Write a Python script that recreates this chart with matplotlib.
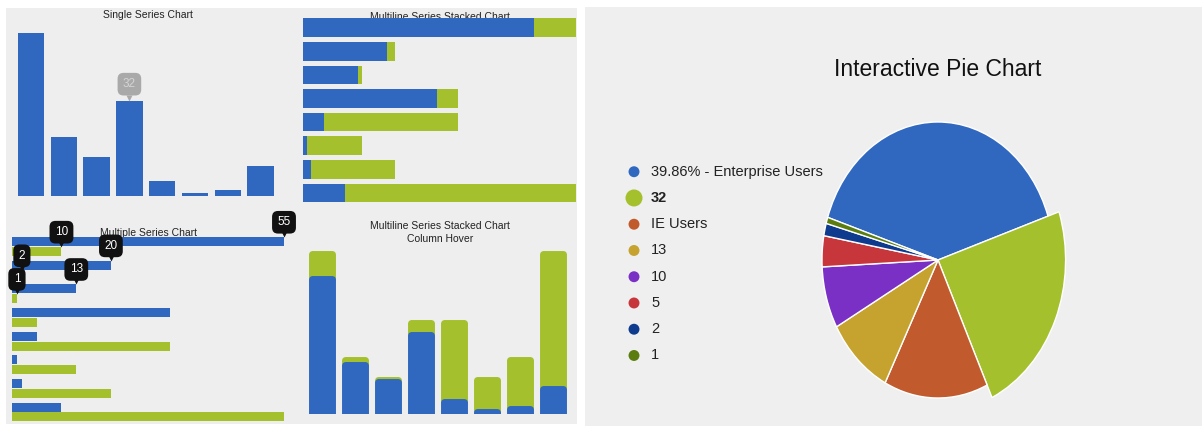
import matplotlib
matplotlib.use('Agg')
import matplotlib.pyplot as plt
from matplotlib.patches import Rectangle
from matplotlib.transforms import offset_copy
from matplotlib import font_manager

W, H = 1202, 426

# data
categories = list(range(8))
series_a = [55, 20, 13, 32, 5, 1, 2, 10]
series_b = [10, 2, 1, 5, 32, 13, 20, 55]
pie_values = [55, 32, 20, 13, 10, 5, 2, 1]
pie_labels = ['39.86% - Enterprise Users', '32', 'IE Users', '13', '10', '5', '2', '1']
hover_single = 3          # bar with the grey tooltip
hover_pairs = [0, 1, 2]   # pairs showing black tooltips
hover_slice = 1           # pie slice pulled out / bold in legend

BLUE = '#3068c0'
GREEN = '#a4c02d'
pie_colors = [BLUE, GREEN, '#c15b2e', '#c6a22f', '#7a2fc5', '#c7363a', '#0e3b8e', '#5b7d0f']

FONT = 'Liberation Sans'
names = {f.name for f in font_manager.fontManager.ttflist}
NARROW = 'Liberation Sans Narrow' if 'Liberation Sans Narrow' in names else FONT
plt.rcParams['font.family'] = [FONT, 'DejaVu Sans']

fig = plt.figure(figsize=(W / 100, H / 100), dpi=100, facecolor='white')

# grey panels
fig.patches.append(Rectangle((6 / W, 1 - 424 / H), 571 / W, 416 / H,
                             transform=fig.transFigure, fc='#eeeeee', ec='none', zorder=-10))
fig.patches.append(Rectangle((585 / W, 0), 617 / W, 1 - 7 / H,
                             transform=fig.transFigure, fc='#efefef', ec='none', zorder=-10))


def px_axes(x0, y0, x1, y1):
    a = fig.add_axes([x0 / W, 1 - y1 / H, (x1 - x0) / W, (y1 - y0) / H])
    a.set_facecolor('none')
    a.axis('off')
    return a


def title(ax, x, y, s, **kw):
    ax.text(x / W, 1 - y / H, s, transform=fig.transFigure, ha='center', va='center',
            fontsize=7.5, color='#222222', zorder=0.5, clip_on=False, linespacing=1.35, **kw)


def tooltip(ax, x, y, s, fc, tc, rise=15):
    ax.annotate(s, (x, y), xytext=(0, rise), textcoords='offset pixels', ha='center', va='center',
                fontsize=8.5, color=tc, zorder=6, annotation_clip=False,
                bbox=dict(boxstyle='round,pad=0.45,rounding_size=0.5', fc=fc, ec='none'))
    ax.plot([x], [y], marker='v', ms=5, color=fc, mec='none', zorder=6, clip_on=False,
            transform=offset_copy(ax.transData, fig=fig, x=0, y=3, units='dots'))


# Single Series Chart
ax1 = px_axes(14.6, 18.2, 277, 196)
ax1.bar(categories, series_a, width=0.81, color=BLUE)
ax1.set_xlim(-0.5, 7.5)
ax1.set_ylim(0, 60)
title(ax1, 148, 15, 'Single Series Chart')
tooltip(ax1, categories[hover_single], series_a[hover_single], str(series_a[hover_single]),
        '#a9a9a9', '#d4d4d4', rise=17)

# Multiline Series Stacked Chart (horizontal)
ax2 = px_axes(303, 15.9, 576, 204.8)
ax2.barh(categories, series_a, height=0.79, color=BLUE, zorder=2)
ax2.barh(categories, series_b, left=series_a, height=0.79, color=GREEN, zorder=2)
ax2.set_xlim(0, 65)
ax2.set_ylim(7.5, -0.5)
title(ax2, 440, 16.5, 'Multiline Series Stacked Chart')

# Multiple Series Chart
off, bh = 0.21, 0.38
ax3 = px_axes(12, 234.9, 284, 423.8)
ya = [c - off for c in categories]
yb = [c + off for c in categories]
ax3.barh(ya, series_a, height=bh, color=BLUE, zorder=2)
ax3.barh(yb, series_b, height=bh, color=GREEN, zorder=2)
ax3.set_xlim(0, 55)
ax3.set_ylim(7.5, -0.5)
title(ax3, 148, 233.5, 'Multiple Series Chart')
for i in hover_pairs:
    tooltip(ax3, series_a[i], ya[i] - bh / 2, str(series_a[i]), '#111111', 'white')
    tooltip(ax3, series_b[i], yb[i] - bh / 2, str(series_b[i]), '#111111', 'white')

# Multiline Series Stacked Chart - Column Hover
ax4 = px_axes(306, 242.2, 569, 414)
ax4.bar(categories, series_b, bottom=series_a, width=0.61, color=GREEN, edgecolor=GREEN,
        linewidth=5, joinstyle='round')
ax4.bar(categories, series_a, width=0.61, color=BLUE, edgecolor=BLUE,
        linewidth=5, joinstyle='round')
ax4.set_xlim(-0.5, 7.5)
ax4.set_ylim(0, 70)
title(ax4, 440, 232.5, 'Multiline Series Stacked Chart\nColumn Hover')

# Interactive Pie Chart
cx, cy, rx, ry = 938, 260, 116, 138
ax5 = px_axes(cx - rx * 1.25, cy - ry * 1.25, cx + rx * 1.25, cy + ry * 1.25)
wedges, _ = ax5.pie(pie_values, colors=pie_colors, startangle=162, counterclock=False,
                    wedgeprops=dict(edgecolor='white', linewidth=1))
wedges[hover_slice].set_radius(1.1)
ax5.set_aspect('auto')
ax5.set_xlim(-1.25, 1.25)
ax5.set_ylim(-1.25, 1.25)
fig.text(938 / W, 1 - 69 / H, 'Interactive Pie Chart', ha='center', va='center',
         fontsize=20 if NARROW != FONT else 16.5, family=[NARROW, 'DejaVu Sans'], color='#111111')

# legend
ax6 = px_axes(620, 158.6, 900, 368.6)
ax6.set_xlim(620, 900)
ax6.set_ylim(7.5, -0.5)
for i, (lab, col) in enumerate(zip(pie_labels, pie_colors)):
    big = i == hover_slice
    ax6.scatter([634], [i], s=150 if big else 62, color=col, edgecolors='none', clip_on=False)
    ax6.text(651, i, lab, va='center', ha='left', color='#222222',
             fontsize=12 if NARROW != FONT else 10.5, family=[NARROW, 'DejaVu Sans'],
             fontweight='bold' if big else 'normal')

fig.savefig('out.png', dpi=100, facecolor='white')
